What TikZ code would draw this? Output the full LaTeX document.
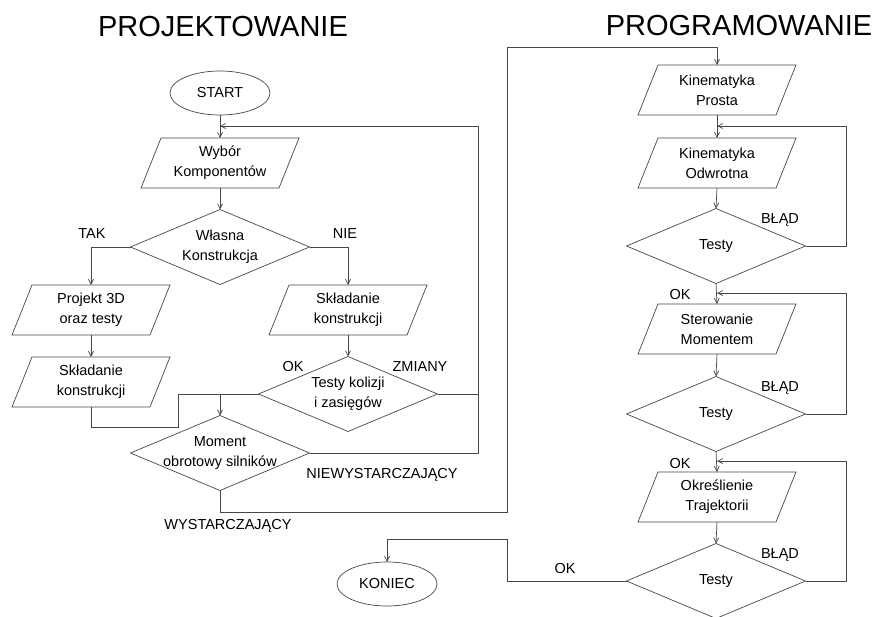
\documentclass[tikz,border=0pt]{standalone}
\usepackage{fontspec}
\setmainfont{Liberation Sans}
\usetikzlibrary{shapes.geometric,arrows.meta}
\newcommand\parashape[1]{\draw[line] ([xshift=10pt]#1.north west) -- ([xshift=10pt]#1.north east) -- ([xshift=-10pt]#1.south east) -- ([xshift=-10pt]#1.south west) -- cycle;}
\begin{document}
\begin{tikzpicture}[x=1pt,y=-1pt,
  line/.style={draw=black!72, line width=0.7pt},
  arr/.style={line, -{Straight Barb[length=5pt,width=5pt]}},
  txt/.style={font=\fontsize{14.5}{20}\selectfont, align=center, inner sep=0pt, outer sep=0pt, text=black},
  term/.style={ellipse, line, minimum width=100pt, minimum height=44pt, inner sep=0pt, outer sep=0pt, txt},
  dec/.style={diamond, line, minimum width=179pt, minimum height=75pt, inner sep=0pt, outer sep=0pt},
  io/.style={rectangle, minimum width=138pt, minimum height=50pt, txt},
  lab/.style={txt, text height=10.4pt, text depth=0pt},
  title/.style={font=\fontsize{29}{34}\selectfont, inner sep=0pt, text height=20.8pt, text depth=0pt, text=black}]
\useasboundingbox (0,0) rectangle (881,616);
\fill[white] (0,0) rectangle (881,616);

% titles
\node[title] (tp) at (223,26) {PROJEKTOWANIE};
\node[title] (tg) at (739,25) {PROGRAMOWANIE};

% left part
\node[term] (start) at (220,93) {START};
\node[io] (wyb) at (220,163) {Wybór\\Komponentów};
\node[dec, label={[txt]center:{Własna\\Konstrukcja}}] (wlas) at (220,247) {};
\node[io] (proj) at (91,310) {Projekt 3D\\oraz testy};
\node[io] (sklL) at (91,382) {Składanie\\konstrukcji};
\node[io] (sklR) at (348,310) {Składanie\\konstrukcji};
\node[dec, label={[txt]center:{Testy kolizji\\i zasięgów}}] (kol) at (348,394) {};
\node[dec, label={[txt]center:{Moment\\obrotowy silników}}] (mom) at (220,453) {};
\node[term] (kon) at (387,584) {KONIEC};

% right part
\node[io] (kp) at (717,90) {Kinematyka\\Prosta};
\node[io] (ko) at (717,163) {Kinematyka\\Odwrotna};
\node[dec, label={[txt]center:Testy}] (t1) at (716,246) {};
\node[io] (st) at (717,329) {Sterowanie\\Momentem};
\node[dec, label={[txt]center:Testy}] (t2) at (716,414) {};
\node[io] (okr) at (717,497) {Określienie\\Trajektorii};
\node[dec, label={[txt]center:Testy}] (t3) at (716,581) {};

\foreach \n in {wyb,proj,sklL,sklR,kp,ko,st,okr} {\parashape{\n}}

% junction coordinates
\coordinate (jA) at (220,126);
\coordinate (jB) at (220,394);
\coordinate (jC) at (717,126);
\coordinate (jD) at (717,293);
\coordinate (jE) at (717,461);

% labels
\node[lab] (lTAK) at (92,233) {TAK};
\node[lab] (lNIE) at (345,233) {NIE};
\node[lab] (lOK1) at (293,366) {OK};
\node[lab] (lZM) at (420,366) {ZMIANY};
\node[lab] (lNW) at (382,473) {NIEWYSTARCZAJĄCY};
\node[lab] (lW) at (228,524) {WYSTARCZAJĄCY};
\node[lab] (lB1) at (780,218) {BŁĄD};
\node[lab] (lB2) at (780,386) {BŁĄD};
\node[lab] (lB3) at (780,553) {BŁĄD};
\node[lab] (lOK2) at (680,294) {OK};
\node[lab] (lOK3) at (680,463) {OK};
\node[lab] (lOK4) at (565,568) {OK};

% connectors left
\draw[arr] (start.south) -- (wyb.north);
\draw[arr] (mom.east) -- (478,453) -- (478,126) -- (jA);
\draw[line] (kol.east) -- (478,394);
\draw[arr] (wyb.south) -- (wlas.north);
\draw[arr] (wlas.west) -| (proj.north);
\draw[arr] (wlas.east) -| (sklR.north);
\draw[arr] (proj.south) -- (sklL.north);
\draw[arr] (sklR.south) -- (kol.north);
\draw[line] (sklL.south) -- (91,427) -- (178,427) -- (178,394) -- (kol.west);
\draw[arr] (jB) -- (mom.north);
\draw[arr] (mom.south) -- (220,512) -- (507,512) -- (507,47) -- (717,47) -- (kp.north);

% connectors right
\draw[arr] (kp.south) -- (ko.north);
\draw[arr] (ko.south) -- (t1.north);
\draw[arr] (t1.east) -- (846,246) -- (846,126) -- (jC);
\draw[arr] (t1.south) -- (st.north);
\draw[arr] (st.south) -- (t2.north);
\draw[arr] (t2.east) -- (846,414) -- (846,293) -- (jD);
\draw[arr] (t2.south) -- (okr.north);
\draw[arr] (okr.south) -- (t3.north);
\draw[arr] (t3.east) -- (846,581) -- (846,461) -- (jE);
\draw[arr] (t3.west) -- (507,581) -- (507,539) -- (387,539) -- (kon.north);
\end{tikzpicture}
\end{document}
